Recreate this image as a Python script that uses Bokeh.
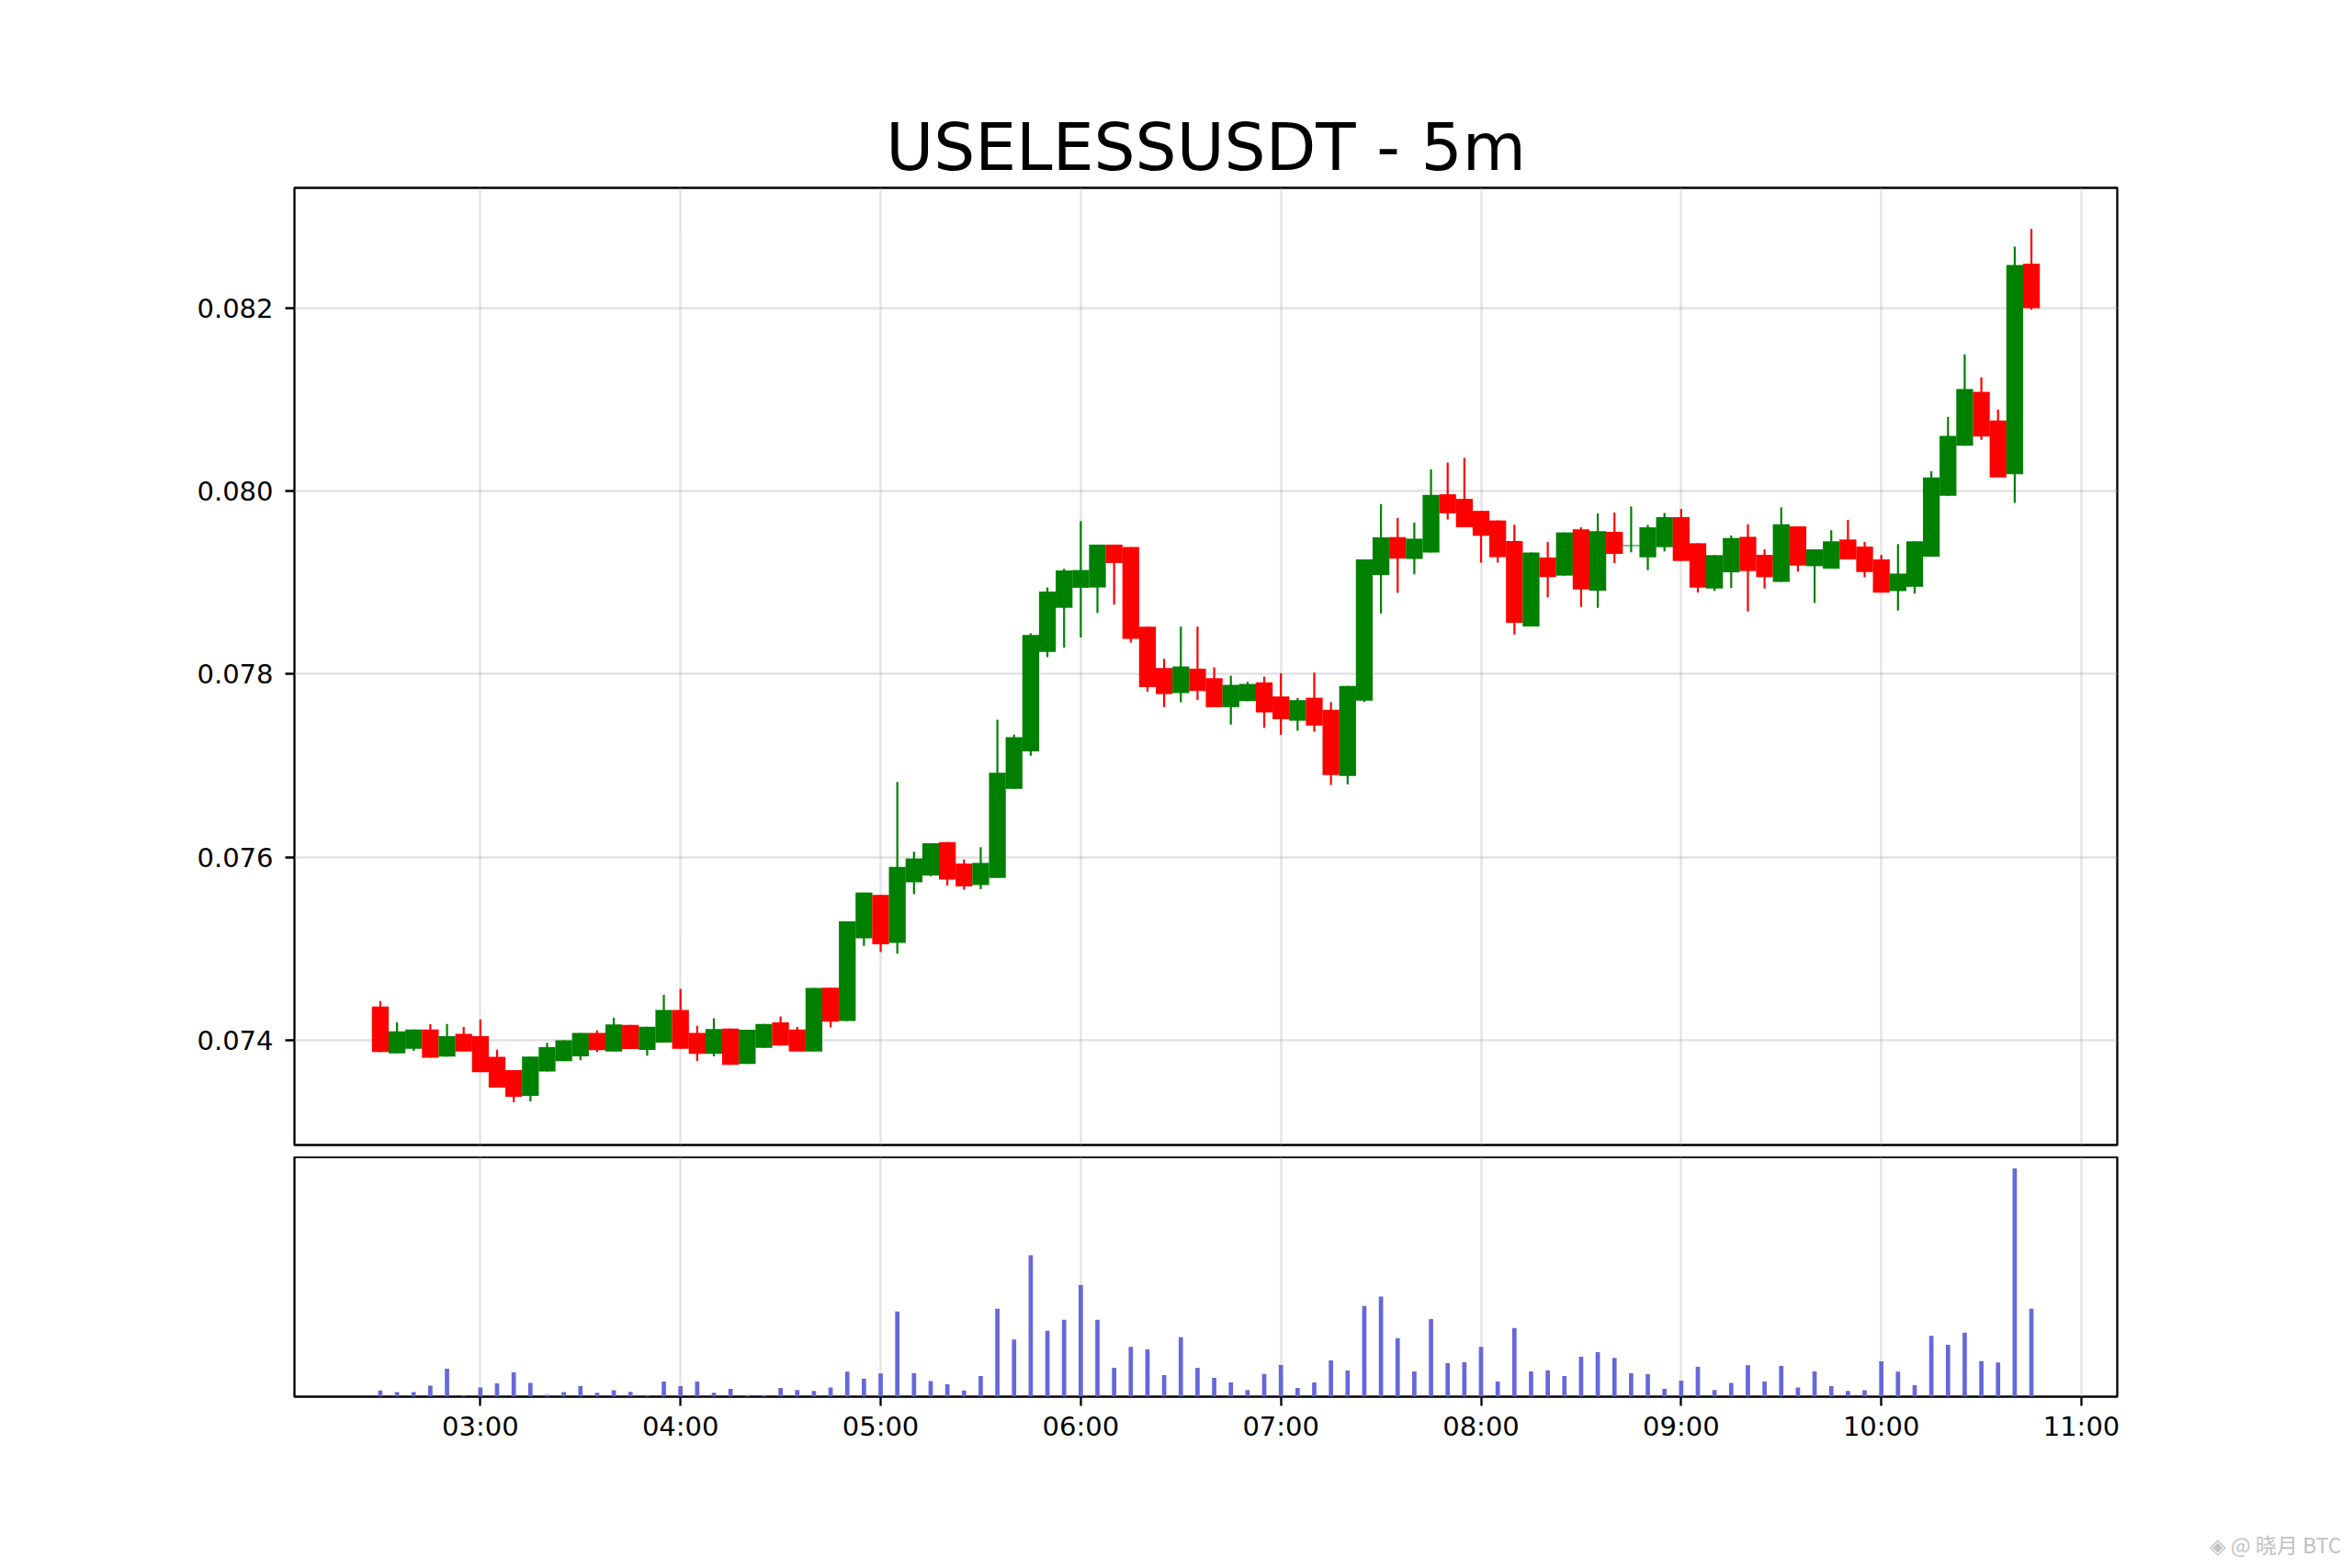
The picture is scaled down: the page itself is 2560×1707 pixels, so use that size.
import numpy as np
import pandas as pd
from bokeh.plotting import figure
from bokeh.layouts import column
from bokeh.models import (ColumnDataSource, Range1d, FixedTicker, NumeralTickFormatter,
                          DatetimeTickFormatter)
from bokeh.embed import file_html
from bokeh.resources import INLINE

# ---------------- data ----------------
symbol_title = "USELESSUSDT - 5m"
start_time = "2025-08-01 02:30"
n_candles = 100
times = pd.date_range(start_time, periods=n_candles, freq="5min")

opens = [0.074368, 0.073856, 0.073906, 0.074117, 0.073819, 0.074067, 0.074043, 0.073816, 0.073672, 0.073391,
         0.073656, 0.073769, 0.073823, 0.074077, 0.073876, 0.074167, 0.073893, 0.073973, 0.074328, 0.074077,
         0.073850, 0.074127, 0.073739, 0.073916, 0.074194, 0.074117, 0.073876, 0.074572, 0.074208, 0.075112,
         0.075587, 0.075063, 0.075725, 0.075799, 0.076164, 0.075929, 0.075695, 0.075773, 0.076747, 0.077156,
         0.078242, 0.078725, 0.078944, 0.078947, 0.079416, 0.079389, 0.078519, 0.078067, 0.077793, 0.078060,
         0.077956, 0.077639, 0.077705, 0.077910, 0.077756, 0.077491, 0.077742, 0.077609, 0.076886, 0.077710,
         0.079084, 0.079498, 0.079259, 0.079330, 0.079966, 0.079916, 0.079785, 0.079680, 0.079455, 0.078522,
         0.079276, 0.079077, 0.079582, 0.078912, 0.079555, 0.079400, 0.079277, 0.079388, 0.079716, 0.079431,
         0.078936, 0.079113, 0.079501, 0.079304, 0.079009, 0.079615, 0.079180, 0.079153, 0.079472, 0.079395,
         0.079254, 0.078908, 0.078955, 0.079284, 0.079950, 0.080497, 0.081086, 0.080773, 0.080185, 0.082487]
highs = [0.074428, 0.074194, 0.074117, 0.074174, 0.074177, 0.074144, 0.074227, 0.073896, 0.073672, 0.073819,
         0.073970, 0.073997, 0.074077, 0.074107, 0.074244, 0.074167, 0.074147, 0.074495, 0.074559, 0.074157,
         0.074240, 0.074127, 0.074114, 0.074177, 0.074258, 0.074144, 0.074569, 0.074572, 0.075297, 0.075613,
         0.075587, 0.076822, 0.076059, 0.076152, 0.076164, 0.075974, 0.076108, 0.077502, 0.077340, 0.078446,
         0.078948, 0.079152, 0.079673, 0.079416, 0.079416, 0.079389, 0.078519, 0.078167, 0.078519, 0.078519,
         0.078074, 0.077983, 0.077916, 0.077973, 0.078010, 0.077739, 0.078017, 0.077694, 0.077872, 0.079253,
         0.079859, 0.079707, 0.079657, 0.080239, 0.080313, 0.080364, 0.079785, 0.079680, 0.079633, 0.079330,
         0.079444, 0.079549, 0.079605, 0.079756, 0.079766, 0.079833, 0.079632, 0.079762, 0.079806, 0.079431,
         0.079301, 0.079515, 0.079639, 0.079364, 0.079823, 0.079615, 0.079364, 0.079573, 0.079687, 0.079445,
         0.079304, 0.079422, 0.079452, 0.080218, 0.080813, 0.081496, 0.081244, 0.080891, 0.082672, 0.082867]
lows = [0.073870, 0.073856, 0.073883, 0.073806, 0.073819, 0.073876, 0.073649, 0.073482, 0.073321, 0.073331,
        0.073656, 0.073769, 0.073779, 0.073870, 0.073876, 0.073903, 0.073830, 0.073973, 0.073906, 0.073773,
        0.073823, 0.073729, 0.073739, 0.073916, 0.073940, 0.073876, 0.073876, 0.074138, 0.074208, 0.075030,
        0.074963, 0.074944, 0.075595, 0.075792, 0.075688, 0.075643, 0.075650, 0.075773, 0.076747, 0.077108,
        0.078186, 0.078290, 0.078402, 0.078669, 0.078760, 0.078345, 0.077809, 0.077639, 0.077692, 0.077716,
        0.077639, 0.077448, 0.077705, 0.077414, 0.077337, 0.077381, 0.077371, 0.076788, 0.076795, 0.077697,
        0.078663, 0.078889, 0.079091, 0.079330, 0.079690, 0.079606, 0.079219, 0.079219, 0.078434, 0.078522,
        0.078838, 0.079077, 0.078735, 0.078725, 0.079214, 0.079331, 0.079137, 0.079341, 0.079237, 0.078892,
        0.078909, 0.078942, 0.078685, 0.078936, 0.079009, 0.079120, 0.078778, 0.079153, 0.079254, 0.079059,
        0.078891, 0.078696, 0.078880, 0.079284, 0.079950, 0.080497, 0.080561, 0.080151, 0.079872, 0.081983]
closes = [0.073870, 0.074097, 0.074117, 0.073806, 0.074043, 0.073876, 0.073649, 0.073482, 0.073381, 0.073819,
          0.073923, 0.073997, 0.074077, 0.073890, 0.074171, 0.073903, 0.074147, 0.074328, 0.073906, 0.073850,
          0.074120, 0.073729, 0.074114, 0.074177, 0.073940, 0.073876, 0.074569, 0.074201, 0.075297, 0.075613,
          0.075048, 0.075892, 0.075985, 0.076152, 0.075755, 0.075680, 0.075937, 0.076922, 0.077312, 0.078428,
          0.078903, 0.079134, 0.079138, 0.079416, 0.079215, 0.078385, 0.077859, 0.077782, 0.078084, 0.077816,
          0.077639, 0.077883, 0.077893, 0.077582, 0.077508, 0.077716, 0.077438, 0.076896, 0.077872, 0.079253,
          0.079495, 0.079263, 0.079481, 0.079960, 0.079758, 0.079606, 0.079512, 0.079279, 0.078562, 0.079330,
          0.079061, 0.079549, 0.078926, 0.079562, 0.079314, 0.079410, 0.079605, 0.079716, 0.079237, 0.078946,
          0.079301, 0.079488, 0.079127, 0.079060, 0.079639, 0.079187, 0.079364, 0.079452, 0.079254, 0.079116,
          0.078891, 0.079099, 0.079452, 0.080151, 0.080605, 0.081116, 0.080598, 0.080151, 0.082471, 0.082000]
volumes = [20, 15, 15, 36, 91, 3, 30, 43, 79, 45,
           6, 15, 34, 13, 21, 16, 5, 49, 34, 49,
           13, 25, 5, 5, 28, 22, 19, 30, 81, 58,
           75, 277, 76, 51, 40, 20, 67, 286, 186, 460,
           214, 250, 363, 250, 94, 162, 154, 70, 193, 94,
           61, 46, 22, 74, 103, 28, 46, 118, 85, 295,
           325, 190, 82, 252, 109, 112, 162, 49, 223, 82,
           86, 67, 130, 145, 126, 76, 73, 25, 52, 97,
           22, 45, 102, 49, 100, 30, 82, 34, 19, 21,
           115, 81, 37, 198, 169, 208, 116, 111, 742, 286]

price_ticks = [0.074, 0.076, 0.078, 0.080, 0.082]
hour_labels = ["03:00", "04:00", "05:00", "06:00", "07:00", "08:00", "09:00", "10:00", "11:00"]
watermark_text = "◈ @ 晓月 BTC"

# ---------------- derived ----------------
t_ms = (times.asi8 // 10**6).astype(float)
day = times[0].strftime("%Y-%m-%d")
hour_ms = [float(pd.Timestamp(f"{day} {h}").value // 10**6) for h in hour_labels]

o = np.array(opens); h = np.array(highs); l = np.array(lows); c = np.array(closes)
colors = ["green" if cc >= oo else "red" for oo, cc in zip(o, c)]
src = ColumnDataSource(dict(t=t_ms, top=np.maximum(o, c), bottom=np.minimum(o, c),
                            high=h, low=l, color=colors, vol=volumes))

span_t = t_ms[-1] - t_ms[0]
xr = Range1d(t_ms[0] - 0.052 * span_t, t_ms[-1] + 0.052 * span_t)
pspan = h.max() - l.min()
yr = Range1d(l.min() - 0.049 * pspan, h.max() + 0.047 * pspan)
vr = Range1d(0, max(volumes) * 1.05)

FONT = "DejaVu Sans"
GRID_COLOR = "#b0b0b0"
LW = 2.3

W = 2552
p1 = figure(width=W, height=1259, x_range=xr, y_range=yr, x_axis_type="datetime",
            output_backend="svg", toolbar_location=None, title=symbol_title,
            min_border_left=320, min_border_right=248, min_border_top=204, min_border_bottom=13)
p1.title.text_font = FONT
p1.title.text_font_size = "71px"
p1.title.text_font_style = "normal"
p1.title.align = "center"
p1.title.text_color = "black"
p1.title.standoff = 5

p1.segment(x0="t", y0="low", x1="t", y1="high", line_color="color", line_width=2.2, source=src)
p1.vbar(x="t", width=0.0035 * 86400000, top="top", bottom="bottom",
        fill_color="color", line_color=None, source=src)

p1.xaxis.visible = False
p1.xgrid.ticker = FixedTicker(ticks=hour_ms)
p1.yaxis.ticker = FixedTicker(ticks=price_ticks)
p1.yaxis.formatter = NumeralTickFormatter(format="0.000")

p2 = figure(width=W, height=401, x_range=xr, y_range=vr, x_axis_type="datetime",
            output_backend="svg", toolbar_location=None,
            min_border_left=320, min_border_right=248, min_border_top=0, min_border_bottom=140)
p2.vbar(x="t", width=0.0009 * 86400000, top="vol", bottom=0,
        fill_color="#6767dc", line_color=None, source=src)
p2.yaxis.visible = False
p2.xaxis.ticker = FixedTicker(ticks=hour_ms)
p2.xaxis.formatter = DatetimeTickFormatter(hours="%H:%M", hourmin="%H:%M", minutes="%H:%M",
                                           minsec="%H:%M", days="%H:%M", months="%H:%M", years="%H:%M")
p2.xgrid.ticker = FixedTicker(ticks=hour_ms)

for p in (p1, p2):
    p.background_fill_color = "white"
    p.border_fill_color = "white"
    p.outline_line_color = "black"
    p.outline_line_width = LW
    p.outline_line_alpha = 1.0
    p.grid.grid_line_color = GRID_COLOR
    p.grid.grid_line_alpha = 0.35
    p.grid.grid_line_width = LW
    for ax in p.axis:
        ax.axis_line_color = None
        ax.major_tick_out = 10
        ax.major_tick_in = 0
        ax.minor_tick_out = 0
        ax.minor_tick_in = 0
        ax.major_tick_line_width = LW
        ax.major_tick_line_color = "black"
        ax.major_label_text_font = FONT
        ax.major_label_text_font_size = "29px"
        ax.major_label_text_color = "black"
p1.yaxis.major_label_standoff = 13
p2.xaxis.major_label_standoff = 5
p2.ygrid.visible = False

# small strip at the bottom carrying the watermark (as its title)
p3 = figure(width=W, height=39, x_range=Range1d(0, 1), y_range=Range1d(0, 1),
            output_backend="svg", toolbar_location=None, title=watermark_text,
            min_border_left=320, min_border_right=248, min_border_top=0, min_border_bottom=0)
p3.axis.visible = False
p3.grid.visible = False
p3.outline_line_color = None
p3.background_fill_color = "white"
p3.border_fill_color = "white"
p3.title.align = "right"
p3.title.offset = -244
p3.title.standoff = 4
p3.title.text_font = "Noto Sans CJK SC"
p3.title.text_font_size = "23px"
p3.title.text_font_style = "normal"
p3.title.text_color = "#c2c2c2"

layout = column(p1, p2, p3, spacing=0)
open("out.html", "w").write(file_html(layout, INLINE))
